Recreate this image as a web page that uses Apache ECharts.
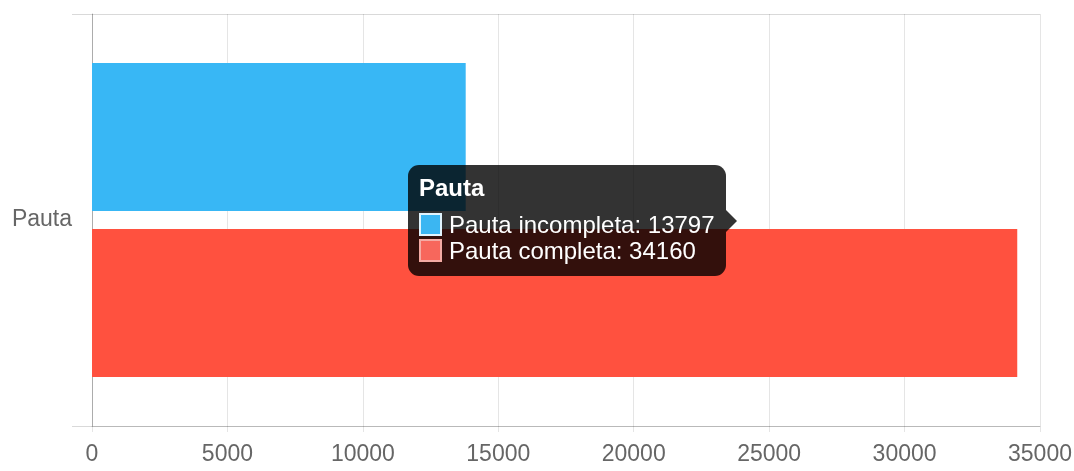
<!DOCTYPE html>
<html>
<head>
<meta charset="utf-8">
<title>Pauta</title>
<script src="https://cdn.jsdelivr.net/npm/echarts@6/dist/echarts.min.js"></script>
<style>
body{margin:0;background:#fff;}
#chart{width:1074px;height:471px;}
</style>
</head>
<body>
<div id="chart"></div>
<script>
var categories = ['Pauta'];
var seriesNames = ['Pauta incompleta', 'Pauta completa'];
var incompleta = [13797];
var completa = [34160];
var xTicks = [0, 35000, 5000]; // min, max, interval

var barColors = ['#33a7df', '#fe4a3a'];
var swatchFill = ['#3bb6f2', '#f7675c'];
var swatchBorder = ['rgba(255,255,255,0.85)', '#f4aba4'];
var font = '"Liberation Sans", Arial, sans-serif';

var chart = echarts.init(document.getElementById('chart'));

function tipHtml(params){
	var html = '<div style="font-weight:bold;line-height:23px;margin-bottom:14px">' + params[0].axisValue + '</div>';
	for(var i=0;i<params.length;i++){
		var p = params[i];
		html += '<div style="line-height:23px;white-space:nowrap;' + (i>0?'margin-top:3px;':'') + '">'
			+ '<span style="display:inline-block;vertical-align:top;box-sizing:border-box;width:23px;height:23px;margin-right:7px;'
			+ 'border:2px solid ' + swatchBorder[p.seriesIndex] + ';background:' + swatchFill[p.seriesIndex] + '"></span>'
			+ p.seriesName + ': ' + p.value + '</div>';
	}
	// caret on the right side
	html += '<span style="position:absolute;right:-11px;top:50%;margin-top:-11px;width:0;height:0;'
		+ 'border-top:11px solid transparent;border-bottom:11px solid transparent;border-left:11px solid rgba(0,0,0,0.8)"></span>';
	return html;
}

var option = {
	animation: false,
	grid: {
		left: 92,
		right: 34,
		top: 14,
		bottom: 45,
		containLabel: false,
		outerBoundsMode: 'none'
	},
	tooltip: {
		trigger: 'axis',
		triggerOn: 'none',
		alwaysShowContent: true,
		transitionDuration: 0,
		axisPointer: {type: 'none'},
		backgroundColor: 'rgba(0,0,0,0.8)',
		borderWidth: 0,
		padding: [11, 11, 14, 11],
		textStyle: {color: '#fff', fontSize: 24, fontFamily: font},
		extraCssText: 'border-radius:11px;box-shadow:none;',
		formatter: tipHtml,
		position: function(point, params, dom, rect, size){
			// chart.js style "average" position, tooltip on the left of it
			var avg = (incompleta[0] + completa[0]) / 2;
			var px = chart.convertToPixel({xAxisIndex: 0}, avg);
			var py = chart.convertToPixel({yAxisIndex: 0}, categories[0]);
			return [px - 15 - size.contentSize[0], py - size.contentSize[1] / 2];
		}
	},
	xAxis: {
		type: 'value',
		min: xTicks[0],
		max: xTicks[1],
		interval: xTicks[2],
		axisLine: {show: true, lineStyle: {color: 'rgba(0,0,0,0.15)', width: 1}},
		axisTick: {show: true, length: 6, lineStyle: {color: 'rgba(0,0,0,0.1)'}},
		splitLine: {show: true, lineStyle: {color: 'rgba(0,0,0,0.1)'}},
		axisLabel: {
			color: '#666', fontSize: 23, fontFamily: font, margin: 17,
			formatter: function(v){ return String(v); }
		}
	},
	yAxis: {
		type: 'category',
		data: categories,
		inverse: true,
		axisLine: {show: true, lineStyle: {color: 'rgba(0,0,0,0.25)'}},
		axisTick: {show: true, length: 20, lineStyle: {color: 'rgba(0,0,0,0.15)'}},
		splitLine: {show: true, lineStyle: {color: 'rgba(0,0,0,0.15)'}},
		axisLabel: {color: '#666', fontSize: 23, fontFamily: font, margin: 20}
	},
	series: [
		{
			name: seriesNames[0],
			type: 'bar',
			data: incompleta,
			barWidth: 148,
			barGap: '12%',
			itemStyle: {color: barColors[0]}
		},
		{
			name: seriesNames[1],
			type: 'bar',
			data: completa,
			barWidth: 148,
			barGap: '12%',
			itemStyle: {color: barColors[1]}
		}
	]
};

chart.setOption(option);
chart.dispatchAction({type: 'showTip', seriesIndex: 0, dataIndex: 0});
</script>
</body>
</html>
